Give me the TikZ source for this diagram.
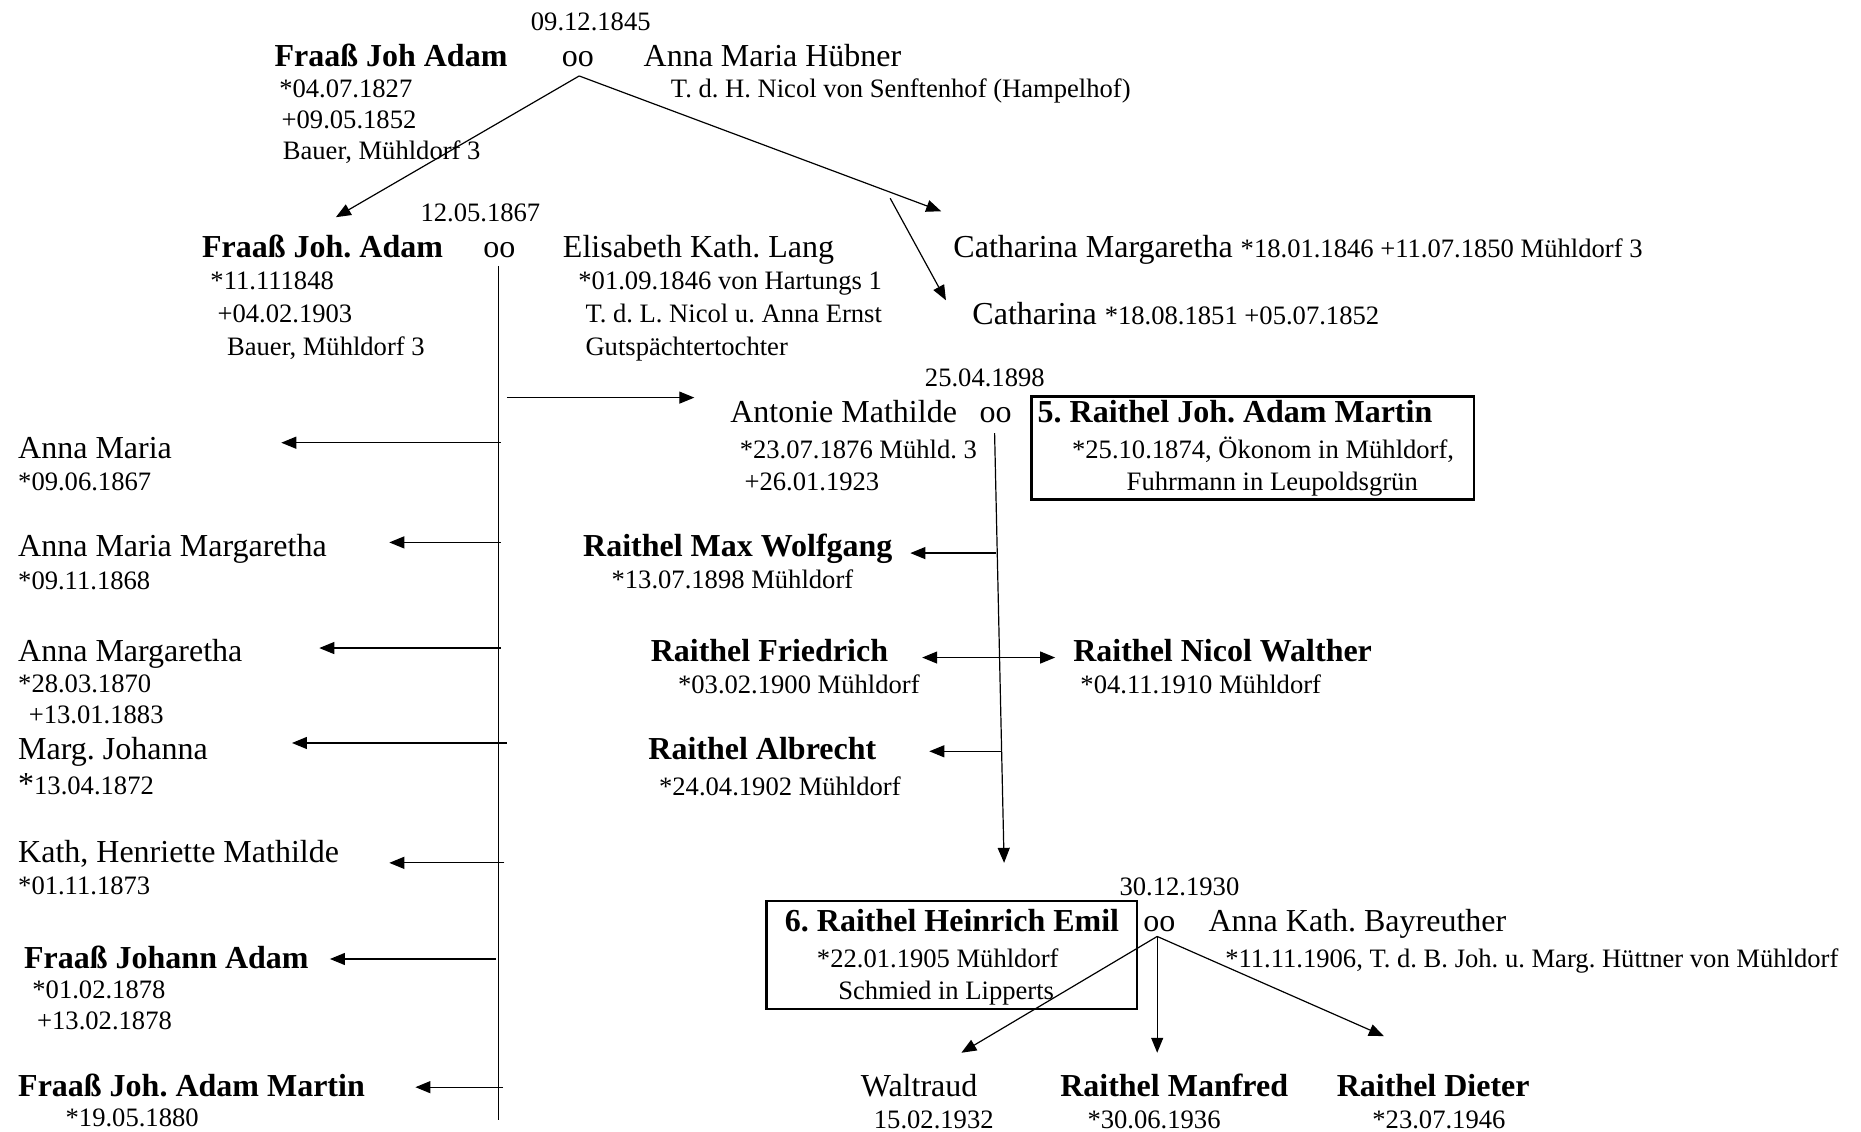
\documentclass[tikz,border=0pt]{standalone}
\usepackage{fontspec}
\setmainfont{Liberation Serif}
\usetikzlibrary{arrows.meta}
\frenchspacing
\newcommand\datesize{\fontsize{13.3}{16}\selectfont}
\tikzset{
  person/.style={font=\fontsize{16}{19}\selectfont, anchor=base west, inner sep=0pt},
  bperson/.style={person, font=\fontsize{16}{19}\selectfont\bfseries},
  info/.style={font=\datesize, anchor=base west, inner sep=0pt},
  edge/.style={draw, line width=0.6pt, -{Triangle[length=7.5pt,width=6pt]}},
  dedge/.style={draw, line width=0.6pt, {Triangle[length=7.5pt,width=6pt]}-{Triangle[length=7.5pt,width=6pt]}},
  trunk/.style={draw, line width=0.6pt},
  famebox/.style={draw, line width=1.3pt},
}
\begin{document}
\begin{tikzpicture}[x=0.5935pt,y=-0.5935pt]
    \useasboundingbox (0,0) rectangle (1568,953);
    % First couple
    \node[info]    (wed1)     at (447,25.5)  {09.12.1845};
    \node[bperson] (adam1)    at (231,56)    {Fraaß Joh Adam};
    \node[person]  (oo1)      at (473,56)    {oo};
    \node[person]  (huebner)  at (542,56)    {Anna Maria Hübner};
    \node[info]    (adam1b)   at (235,82.5)  {*04.07.1827};
    \node[info]    (adam1d)   at (237,108.5) {+09.05.1852};
    \node[info]    (adam1j)   at (238,134.5) {Bauer, Mühldorf 3};
    \node[info]    (huebnerp) at (565,82.5)  {T. d. H. Nicol von Senftenhof (Hampelhof)};

    % Second couple and the sisters
    \node[info]    (wed2)   at (354,186.5) {12.05.1867};
    \node[bperson] (adam2)  at (170,217)   {Fraaß Joh. Adam};
    \node[person]  (oo2)    at (407,217)   {oo};
    \node[person]  (lang)   at (474,217)   {Elisabeth Kath. Lang};
    \node[info]    (adam2b) at (177,243.5) {*11.111848};
    \node[info]    (adam2d) at (183,271.5) {+04.02.1903};
    \node[info]    (adam2j) at (191,299.5) {Bauer, Mühldorf 3};
    \node[info]    (langb)  at (487,243.5) {*01.09.1846 von Hartungs 1};
    \node[info]    (langp)  at (493,271.5) {T. d. L. Nicol u. Anna Ernst};
    \node[info]    (langj)  at (493,299.5) {Gutspächtertochter};
    \node[person]  (cathm)  at (803,217)   {Catharina Margaretha {\datesize *18.01.1846 +11.07.1850 Mühldorf 3}};
    \node[person]  (cath)   at (819,273)   {Catharina {\datesize *18.08.1851 +05.07.1852}};

    \coordinate (oo1s)  at (488,64);
    \coordinate (adam2t) at (283,183);
    \coordinate (cathmt) at (793,178);
    \coordinate (caths) at (750,167);
    \coordinate (catht) at (797,253);
    \draw[edge] (oo1s) -- (adam2t);
    \draw[edge] (oo1s) -- (cathmt);
    \draw[edge] (caths) -- (catht);

    % Children of the second couple
    \node[person]  (annam)  at (15,386)    {Anna Maria};
    \node[info]    (annamb) at (15,413.5)  {*09.06.1867};
    \node[person]  (amm)    at (15,469)    {Anna Maria Margaretha};
    \node[info]    (ammb)   at (15,496.5)  {*09.11.1868};
    \node[person]  (annamg) at (15,557)    {Anna Margaretha};
    \node[info]    (annamgb) at (15,583.5) {*28.03.1870};
    \node[info]    (annamgd) at (24,609.5) {+13.01.1883};
    \node[person]  (margj)  at (15,640)    {Marg. Johanna};
    \node[info]    (margjb) at (15,669.5)  {{\fontsize{16}{19}\selectfont *}13.04.1872};
    \node[person]  (kath)   at (15,727)    {Kath, Henriette Mathilde};
    \node[info]    (kathb)  at (15,753.5)  {*01.11.1873};
    \node[bperson] (johann) at (20,816)    {Fraaß Johann Adam};
    \node[info]    (johannb) at (27,841.5) {*01.02.1878};
    \node[info]    (johannd) at (31,867.5) {+13.02.1878};
    \node[bperson] (adamm)  at (15,924)    {Fraaß Joh. Adam Martin};
    \node[info]    (adammb) at (55,949.5)  {*19.05.1880};

    \coordinate (trunk2a) at (420,224);
    \coordinate (trunk2b) at (420,944);
    \path[trunk] (trunk2a) -- (trunk2b);
    \foreach \n/\sx/\tx/\y in {1/422/237/373, 2/422/328/457, 3/422/269/546, 4/427/246/626, 5/425/328/727, 6/418/278/808, 7/424/350/916}{
        \coordinate (ks\n) at (\sx,\y);
        \coordinate (kt\n) at (\tx,\y);
        \path[edge] (ks\n) -- (kt\n);
    }
    \coordinate (ks0) at (427,335);
    \coordinate (kt0) at (585,335);
    \path[edge] (ks0) -- (kt0);

    % Third couple
    \node[info]    (wed3)    at (779,325.5) {25.04.1898};
    \node[person]  (antonie) at (615,356)   {Antonie Mathilde};
    \node[person]  (oo3)     at (825,356)   {oo};
    \node[bperson] (martin)  at (874,356)   {5. Raithel Joh. Adam Martin};
    \node[info]    (martinb) at (903,386.5) {*25.10.1874, Ökonom in Mühldorf,};
    \node[info]    (martinj) at (949,413.5) {Fuhrmann in Leupoldsgrün};
    \node[info]    (antonieb) at (623,386.5) {*23.07.1876 Mühld. 3};
    \node[info]    (antonied) at (627,413.5) {+26.01.1923};
    \draw[famebox] (869,334) rectangle (1242,421);

    \node[bperson] (max)      at (491,469)   {Raithel Max Wolfgang};
    \node[info]    (maxb)     at (515,495.5) {*13.07.1898 Mühldorf};
    \node[bperson] (friedrich) at (548,557)  {Raithel Friedrich};
    \node[info]    (friedrichb) at (571,584.5) {*03.02.1900 Mühldorf};
    \node[bperson] (nicol)    at (904,557)   {Raithel Nicol Walther};
    \node[info]    (nicolb)   at (910,584.5) {*04.11.1910 Mühldorf};
    \node[bperson] (albrecht) at (546,640)   {Raithel Albrecht};
    \node[info]    (albrechtb) at (555,670.5) {*24.04.1902 Mühldorf};

    \coordinate (trunk3a) at (838,365);
    \coordinate (trunk3b) at (846,727);
    \path[edge] (trunk3a) -- (trunk3b);
    \coordinate (maxs) at (839,466);
    \coordinate (maxt) at (767,466);
    \path[edge] (maxs) -- (maxt);
    \coordinate (fnl) at (777,554);
    \coordinate (fnr) at (889,554);
    \path[dedge] (fnl) -- (fnr);
    \coordinate (albs) at (843,633);
    \coordinate (albt) at (783,633);
    \path[edge] (albs) -- (albt);

    % Fourth couple
    \node[info]    (wed4)    at (943,754.5) {30.12.1930};
    \node[bperson] (heinrich) at (661,785)  {6. Raithel Heinrich Emil};
    \node[person]  (oo4)     at (963,785)   {oo};
    \node[person]  (bayr)    at (1018,785)  {Anna Kath. Bayreuther};
    \node[info]    (heinrichb) at (688,815.5) {*22.01.1905 Mühldorf};
    \node[info]    (heinrichj) at (706,842.5) {Schmied in Lipperts};
    \node[info]    (bayrb)   at (1032,815.5) {*11.11.1906, T. d. B. Joh. u. Marg. Hüttner von Mühldorf};
    \draw[famebox] (646,759) rectangle (958,850);

    \node[person]  (waltraud)  at (725,924)   {Waltraud};
    \node[info]    (waltraudb) at (736,950.5) {15.02.1932};
    \node[bperson] (manfred)   at (893,924)   {Raithel Manfred};
    \node[info]    (manfredb)  at (916,950.5) {*30.06.1936};
    \node[bperson] (dieter)    at (1126,924)  {Raithel Dieter};
    \node[info]    (dieterb)   at (1156,950.5) {*23.07.1946};

    \coordinate (oo4s) at (975,789);
    \coordinate (waltt) at (810,887);
    \coordinate (manft) at (975,887);
    \coordinate (diett) at (1166,873);
    \path[edge] (oo4s) -- (waltt);
    \path[edge] (oo4s) -- (manft);
    \path[edge] (oo4s) -- (diett);
\end{tikzpicture}
\end{document}
